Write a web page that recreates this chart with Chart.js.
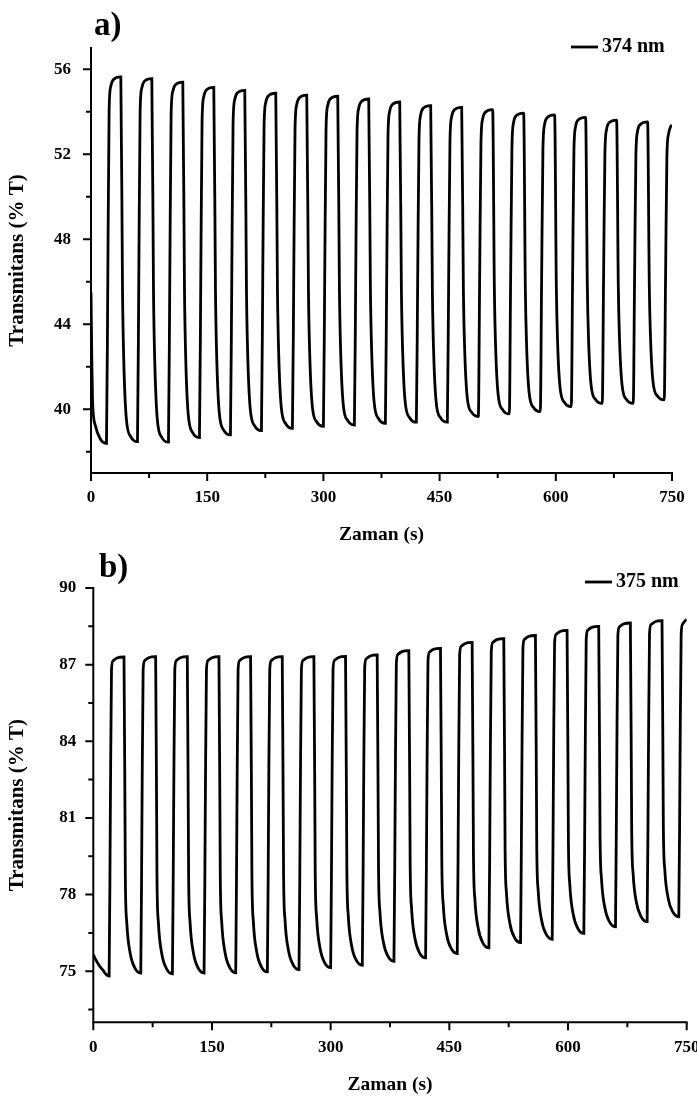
<!DOCTYPE html>
<html>
<head>
<meta charset="utf-8">
<script src="https://cdn.jsdelivr.net/npm/chart.js@4.4.1/dist/chart.umd.min.js"></script>
<style>
  html, body { margin: 0; padding: 0; background: #fff; overflow: hidden; }
  #wrap { position: relative; width: 697px; height: 1101px; overflow: hidden; background: #fff; }
  .panel { position: absolute; left: 0; }
  #pa { top: 0; }
  #pb { top: 545px; }
  canvas { display: block; }
</style>
</head>
<body>
<div id="wrap">
  <div class="panel" id="pa"><canvas id="ca" width="697" height="545"></canvas></div>
  <div class="panel" id="pb"><canvas id="cb" width="720" height="556"></canvas></div>
</div>
<script>
// ---- Panel a: transmittance at 374 nm during switching cycles ----
const timeA = [
  0, 1, 2, 5.5, 12,
  20, 21.7, 23.4, 25.5, 29, 38.5, 40.7, 42.2, 45.5, 51.5,
  60, 61.7, 63.4, 65.5, 69, 78.5, 80.7, 82.2, 85.5, 91.5,
  100, 101.7, 103.4, 105.5, 109, 118.5, 120.7, 122.2, 125.5, 131.5,
  140, 141.7, 143.4, 145.5, 149, 158.5, 160.7, 162.2, 165.5, 171.5,
  180, 181.7, 183.4, 185.5, 189, 198.5, 200.7, 202.2, 205.5, 211.5,
  220, 221.7, 223.4, 225.5, 229, 238.5, 240.7, 242.2, 245.5, 251.5,
  260, 261.7, 263.4, 265.5, 269, 278.5, 280.7, 282.2, 285.5, 291.5,
  300, 301.7, 303.4, 305.5, 309, 318.5, 320.7, 322.2, 325.5, 331.5,
  340, 341.7, 343.4, 345.5, 349, 358.5, 360.7, 362.2, 365.5, 371.5,
  380, 381.7, 383.4, 385.5, 389, 398.5, 400.7, 402.2, 405.5, 411.5,
  420, 421.7, 423.4, 425.5, 429, 438.5, 440.7, 442.2, 445.5, 451.5,
  460, 461.7, 463.4, 465.5, 469, 478.5, 480.7, 482.2, 485.5, 491.5,
  500, 501.7, 503.4, 505.5, 509, 518.5, 520.7, 522.2, 525.5, 531.5,
  540, 541.7, 543.4, 545.5, 549, 558.5, 560.7, 562.2, 565.5, 571.5,
  580, 581.7, 583.4, 585.5, 589, 598.5, 600.7, 602.2, 605.5, 611.5,
  620, 621.7, 623.4, 625.5, 629, 638.5, 640.7, 642.2, 645.5, 651.5,
  660, 661.7, 663.4, 665.5, 669, 678.5, 680.7, 682.2, 685.5, 691.5,
  700, 701.7, 703.4, 705.5, 709, 718.5, 720.7, 722.2, 725.5, 731.5,
  740, 741.7, 743.4, 745.5, 748, 750
];
const transA = [
  45.5, 42.5, 40.4, 39.25, 38.6,
  38.40, 46.16, 54.09, 55.19, 55.52, 55.64, 45.52, 42.43, 39.60, 38.70,
  38.48, 46.17, 54.01, 55.11, 55.44, 55.56, 45.47, 42.39, 39.56, 38.67,
  38.45, 46.07, 53.84, 54.94, 55.27, 55.39, 45.53, 42.52, 39.76, 38.89,
  38.67, 46.09, 53.60, 54.70, 55.03, 55.15, 45.50, 42.56, 39.86, 39.01,
  38.80, 46.09, 53.46, 54.56, 54.89, 55.01, 45.56, 42.68, 40.04, 39.21,
  39.00, 46.14, 53.32, 54.42, 54.75, 54.87, 45.57, 42.73, 40.13, 39.31,
  39.10, 46.16, 53.23, 54.33, 54.66, 54.78, 45.59, 42.78, 40.21, 39.40,
  39.20, 46.19, 53.18, 54.28, 54.61, 54.73, 45.60, 42.82, 40.27, 39.46,
  39.26, 46.16, 53.05, 54.15, 54.48, 54.60, 45.60, 42.85, 40.33, 39.54,
  39.34, 46.14, 52.91, 54.01, 54.34, 54.46, 45.57, 42.86, 40.37, 39.59,
  39.39, 46.10, 52.74, 53.84, 54.17, 54.29, 45.50, 42.82, 40.36, 39.58,
  39.39, 46.06, 52.66, 53.76, 54.09, 54.21, 45.63, 43.01, 40.61, 39.85,
  39.66, 46.16, 52.55, 53.65, 53.98, 54.10, 45.65, 43.07, 40.71, 39.97,
  39.78, 46.15, 52.39, 53.49, 53.82, 53.94, 45.65, 43.12, 40.80, 40.07,
  39.89, 46.17, 52.30, 53.40, 53.73, 53.85, 45.76, 43.29, 41.02, 40.31,
  40.13, 46.25, 52.19, 53.29, 53.62, 53.74, 45.80, 43.38, 41.15, 40.45,
  40.28, 46.28, 52.06, 53.16, 53.49, 53.61, 45.75, 43.35, 41.15, 40.45,
  40.28, 46.24, 51.97, 53.07, 53.40, 53.52, 45.80, 43.45, 41.29, 40.61,
  40.44, 46.20, 51.90, 52.95, 53.28, 53.38
];

// ---- Panel b: transmittance at 375 nm during switching cycles ----
const timeB = [
  0, 3, 8, 12, 16,
  20, 21.5, 23, 25, 30, 38.8, 40.5, 42.3, 46.5, 52.5,
  60, 61.5, 63, 65, 70, 78.8, 80.5, 82.3, 86.5, 92.5,
  100, 101.5, 103, 105, 110, 118.8, 120.5, 122.3, 126.5, 132.5,
  140, 141.5, 143, 145, 150, 158.8, 160.5, 162.3, 166.5, 172.5,
  180, 181.5, 183, 185, 190, 198.8, 200.5, 202.3, 206.5, 212.5,
  220, 221.5, 223, 225, 230, 238.8, 240.5, 242.3, 246.5, 252.5,
  260, 261.5, 263, 265, 270, 278.8, 280.5, 282.3, 286.5, 292.5,
  300, 301.5, 303, 305, 310, 318.8, 320.5, 322.3, 326.5, 332.5,
  340, 341.5, 343, 345, 350, 358.8, 360.5, 362.3, 366.5, 372.5,
  380, 381.5, 383, 385, 390, 398.8, 400.5, 402.3, 406.5, 412.5,
  420, 421.5, 423, 425, 430, 438.8, 440.5, 442.3, 446.5, 452.5,
  460, 461.5, 463, 465, 470, 478.8, 480.5, 482.3, 486.5, 492.5,
  500, 501.5, 503, 505, 510, 518.8, 520.5, 522.3, 526.5, 532.5,
  540, 541.5, 543, 545, 550, 558.8, 560.5, 562.3, 566.5, 572.5,
  580, 581.5, 583, 585, 590, 598.8, 600.5, 602.3, 606.5, 612.5,
  620, 621.5, 623, 625, 630, 638.8, 640.5, 642.3, 646.5, 652.5,
  660, 661.5, 663, 665, 670, 678.8, 680.5, 682.3, 686.5, 692.5,
  700, 701.5, 703, 705, 710, 718.8, 720.5, 722.3, 726.5, 732.5,
  740, 741.5, 743, 745, 750
];
const transB = [
  75.65, 75.45, 75.20, 75.05, 74.88,
  74.81, 81.06, 86.80, 87.15, 87.26, 87.30, 78.64, 76.91, 75.72, 75.13,
  74.93, 81.12, 86.81, 87.16, 87.27, 87.31, 78.62, 76.89, 75.69, 75.10,
  74.90, 81.11, 86.81, 87.16, 87.27, 87.31, 78.64, 76.91, 75.72, 75.13,
  74.93, 81.12, 86.81, 87.16, 87.27, 87.31, 78.65, 76.92, 75.73, 75.14,
  74.94, 81.13, 86.81, 87.16, 87.27, 87.31, 78.67, 76.94, 75.76, 75.17,
  74.97, 81.14, 86.81, 87.16, 87.27, 87.31, 78.74, 77.02, 75.84, 75.26,
  75.06, 81.19, 86.81, 87.16, 87.27, 87.31, 78.79, 77.09, 75.92, 75.33,
  75.14, 81.23, 86.82, 87.17, 87.28, 87.32, 78.86, 77.16, 76.00, 75.42,
  75.23, 81.31, 86.88, 87.23, 87.34, 87.38, 78.99, 77.31, 76.16, 75.58,
  75.39, 81.47, 87.05, 87.40, 87.51, 87.55, 79.13, 77.44, 76.29, 75.71,
  75.52, 81.58, 87.14, 87.49, 87.60, 87.64, 79.28, 77.60, 76.45, 75.88,
  75.69, 81.78, 87.37, 87.72, 87.83, 87.87, 79.50, 77.82, 76.68, 76.10,
  75.91, 81.97, 87.52, 87.87, 87.98, 88.02, 79.69, 78.02, 76.88, 76.31,
  76.12, 82.13, 87.64, 87.99, 88.10, 88.14, 79.82, 78.15, 77.01, 76.44,
  76.25, 82.30, 87.84, 88.19, 88.30, 88.34, 80.04, 78.38, 77.24, 76.67,
  76.48, 82.49, 88.00, 88.35, 88.46, 88.50, 80.27, 78.62, 77.49, 76.93,
  76.74, 82.69, 88.13, 88.48, 88.59, 88.63, 80.45, 78.81, 77.69, 77.13,
  76.94, 82.83, 88.22, 88.57, 88.68, 88.72, 80.61, 78.98, 77.87, 77.32,
  77.13, 82.90, 88.20, 88.60, 88.78
];

// ---- Axis ticks ----
const xTicks = [0, 150, 300, 450, 600, 750];
const xMinorTicks = [75, 225, 375, 525, 675];
const yTicksA = [40, 44, 48, 52, 56];
const yMinorTicksA = [38, 42, 46, 50, 54];
const yTicksB = [75, 78, 81, 84, 87, 90];
const yMinorTicksB = [73.5, 76.5, 79.5, 82.5, 85.5, 88.5];

const SERIF = '"Liberation Serif", "Times New Roman", Times, serif';
Chart.defaults.font.family = SERIF;
Chart.defaults.color = '#000';

// Axis lines, tick marks, panel letter, legend and axis titles
const decor = {
  id: 'decor',
  afterDraw(chart, args, o) {
    const { ctx, chartArea: a, scales: { x, y } } = chart;
    ctx.save();
    ctx.strokeStyle = '#000';
    ctx.fillStyle = '#000';
    ctx.lineCap = 'square';

    // axes
    ctx.lineWidth = 2;
    ctx.beginPath();
    ctx.moveTo(a.left, a.top);
    ctx.lineTo(a.left, a.bottom);
    ctx.lineTo(a.right, a.bottom);
    ctx.stroke();

    // tick marks
    ctx.lineCap = 'butt';
    ctx.beginPath();
    o.xMajor.forEach(v => { const p = x.getPixelForValue(v); ctx.moveTo(p, a.bottom); ctx.lineTo(p, a.bottom + o.majorLen); });
    o.xMinor.forEach(v => { const p = x.getPixelForValue(v); ctx.moveTo(p, a.bottom); ctx.lineTo(p, a.bottom + o.minorLen); });
    o.yMajor.forEach(v => { const p = y.getPixelForValue(v); ctx.moveTo(a.left, p); ctx.lineTo(a.left - o.majorLen, p); });
    o.yMinor.forEach(v => { const p = y.getPixelForValue(v); ctx.moveTo(a.left, p); ctx.lineTo(a.left - o.minorLen, p); });
    ctx.stroke();

    // panel letter
    ctx.font = 'bold 33px ' + SERIF;
    ctx.textAlign = 'left';
    ctx.textBaseline = 'alphabetic';
    ctx.fillText(o.letter, o.letterX, o.letterY);

    // legend sample line and label
    ctx.lineWidth = 2.8;
    ctx.beginPath();
    ctx.moveTo(o.legX, o.legY);
    ctx.lineTo(o.legX + 27, o.legY);
    ctx.stroke();
    ctx.font = 'bold 20px ' + SERIF;
    ctx.textBaseline = 'middle';
    ctx.fillText(o.legText, o.legX + 31, o.legY);

    // x title
    ctx.font = 'bold 19.5px ' + SERIF;
    ctx.textAlign = 'center';
    ctx.textBaseline = 'middle';
    ctx.fillText('Zaman (s)', (a.left + a.right) / 2, o.xTitleY);

    // y title
    ctx.translate(o.yTitleX, (a.top + a.bottom) / 2);
    ctx.rotate(-Math.PI / 2);
    ctx.font = 'bold 21px ' + SERIF;
    ctx.fillText('Transmitans (% T)', 0, 0);
    ctx.restore();
  }
};

function makeChart(canvasId, times, values, yMin, yMax, yMajor, yMinor, geo, deco) {
  const points = times.map((t, i) => ({ x: t, y: values[i] }));
  return new Chart(document.getElementById(canvasId), {
    type: 'line',
    data: {
      datasets: [{
        data: points,
        borderColor: '#000',
        borderWidth: 2.8,
        pointRadius: 0,
        cubicInterpolationMode: 'monotone',
        fill: false
      }]
    },
    options: {
      responsive: false,
      animation: false,
      devicePixelRatio: 1,
      layout: { padding: { left: 0, top: geo.top, right: geo.right, bottom: 0 } },
      plugins: { legend: { display: false }, tooltip: { enabled: false }, decor: deco },
      scales: {
        x: {
          type: 'linear', min: 0, max: 750,
          grid: { display: false, drawTicks: false },
          border: { display: false },
          ticks: { font: { size: 17, weight: 'bold' }, color: '#000', padding: geo.xPad, maxRotation: 0, autoSkip: false },
          afterBuildTicks: s => { s.ticks = xTicks.map(v => ({ value: v })); },
          afterFit: s => { s.height = geo.xHeight; s.paddingLeft = 0; s.paddingRight = 0; }
        },
        y: {
          type: 'linear', min: yMin, max: yMax,
          grid: { display: false, drawTicks: false },
          border: { display: false },
          ticks: { font: { size: 17, weight: 'bold' }, color: '#000', padding: geo.yPad, autoSkip: false },
          afterBuildTicks: s => { s.ticks = yMajor.map(v => ({ value: v })); },
          afterFit: s => { s.width = geo.yWidth; s.paddingTop = 0; s.paddingBottom = 0; }
        }
      }
    },
    plugins: [decor]
  });
}

makeChart('ca', timeA, transA, 37, 57, yTicksA, yMinorTicksA,
  { top: 48, right: 25, xHeight: 72, yWidth: 91, xPad: 14, yPad: 20 },
  { xMajor: xTicks, xMinor: xMinorTicks, yMajor: yTicksA, yMinor: yMinorTicksA,
    majorLen: 8, minorLen: 5, letter: 'a)', letterX: 94, letterY: 35,
    legX: 571, legY: 47, legText: '374 nm', xTitleY: 535, yTitleX: 18 });

makeChart('cb', timeB, transB, 73, 90, yTicksB, yMinorTicksB,
  { top: 43, right: 33.3, xHeight: 78.7, yWidth: 93.3, xPad: 15, yPad: 17 },
  { xMajor: xTicks, xMinor: xMinorTicks, yMajor: yTicksB, yMinor: yMinorTicksB,
    majorLen: 8, minorLen: 5, letter: 'b)', letterX: 99, letterY: 32,
    legX: 585, legY: 37, legText: '375 nm', xTitleY: 540, yTitleX: 18 });
</script>
</body>
</html>
